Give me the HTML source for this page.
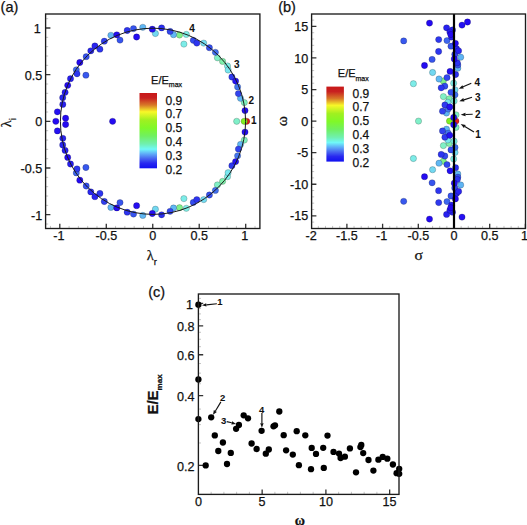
<!DOCTYPE html>
<html><head><meta charset="utf-8"><style>
html,body{margin:0;padding:0;background:#fff;}
svg{display:block;} text{stroke:#111;stroke-width:0.25px;} g[font-weight=bold] text{stroke-width:0.05px;}
</style></head><body>
<svg width="527" height="525" viewBox="0 0 527 525">
<rect width="527" height="525" fill="#fff"/>
<path d="M50.50 228.5v-2.6 M45.6 224.03h2.6 M69.09 228.5v-2.6 M45.6 205.37h2.6 M78.39 228.5v-2.6 M45.6 196.03h2.6 M87.69 228.5v-2.6 M45.6 186.69h2.6 M96.98 228.5v-2.6 M45.6 177.36h2.6 M115.57 228.5v-2.6 M45.6 158.69h2.6 M124.86 228.5v-2.6 M45.6 149.35h2.6 M134.16 228.5v-2.6 M45.6 140.02h2.6 M143.46 228.5v-2.6 M45.6 130.69h2.6 M162.04 228.5v-2.6 M45.6 112.02h2.6 M171.34 228.5v-2.6 M45.6 102.68h2.6 M180.63 228.5v-2.6 M45.6 93.34h2.6 M189.93 228.5v-2.6 M45.6 84.01h2.6 M208.52 228.5v-2.6 M45.6 65.34h2.6 M217.81 228.5v-2.6 M45.6 56.00h2.6 M227.11 228.5v-2.6 M45.6 46.67h2.6 M236.41 228.5v-2.6 M45.6 37.33h2.6 M255.00 228.5v-2.6 M45.6 18.66h2.6" stroke="#c4c4c4" stroke-width="1" fill="none"/><path d="M59.80 228.5v-4.8 M45.6 214.70h4.8 M106.28 228.5v-4.8 M45.6 168.02h4.8 M152.75 228.5v-4.8 M45.6 121.35h4.8 M199.22 228.5v-4.8 M45.6 74.67h4.8 M245.70 228.5v-4.8 M45.6 28.00h4.8" stroke="#333" stroke-width="1.3" fill="none"/>
<g stroke="#000" stroke-opacity="0.28" stroke-width="0.7">
<circle cx="246.7" cy="121.3" r="3.15" fill="#e01e19"/>
<circle cx="244.2" cy="121.3" r="3.15" fill="#80f020"/>
<circle cx="179.5" cy="35.0" r="3.15" fill="#80f08a"/>
<circle cx="179.5" cy="207.7" r="3.15" fill="#80f08a"/>
<circle cx="222.6" cy="61.4" r="3.15" fill="#80f0ab"/>
<circle cx="222.6" cy="181.3" r="3.15" fill="#80f0ab"/>
<circle cx="244.3" cy="102.6" r="3.15" fill="#80f0bd"/>
<circle cx="244.3" cy="140.1" r="3.15" fill="#80f0bd"/>
<circle cx="217.4" cy="57.8" r="3.15" fill="#80f0c5"/>
<circle cx="217.4" cy="184.9" r="3.15" fill="#80f0c5"/>
<circle cx="236.7" cy="121.3" r="3.15" fill="#80f0c9"/>
<circle cx="227.5" cy="66.0" r="3.15" fill="#7fefe5"/>
<circle cx="227.5" cy="176.7" r="3.15" fill="#7fefe5"/>
<circle cx="186.3" cy="34.4" r="3.15" fill="#7feee6"/>
<circle cx="186.3" cy="208.3" r="3.15" fill="#7feee6"/>
<circle cx="183.9" cy="44.1" r="3.15" fill="#7dece8"/>
<circle cx="183.9" cy="198.6" r="3.15" fill="#7dece8"/>
<circle cx="228.1" cy="70.0" r="3.15" fill="#79e6ee"/>
<circle cx="228.1" cy="172.7" r="3.15" fill="#79e6ee"/>
<circle cx="203.7" cy="43.1" r="3.15" fill="#73dcf1"/>
<circle cx="203.7" cy="199.6" r="3.15" fill="#73dcf1"/>
<circle cx="155.4" cy="33.5" r="3.15" fill="#72d8f1"/>
<circle cx="155.4" cy="209.2" r="3.15" fill="#72d8f1"/>
<circle cx="173.5" cy="34.7" r="3.15" fill="#60b8f4"/>
<circle cx="173.5" cy="208.0" r="3.15" fill="#60b8f4"/>
<circle cx="142.8" cy="27.3" r="3.15" fill="#60b7f4"/>
<circle cx="142.8" cy="215.4" r="3.15" fill="#60b7f4"/>
<circle cx="240.5" cy="98.3" r="3.15" fill="#5fb6f4"/>
<circle cx="240.5" cy="144.4" r="3.15" fill="#5fb6f4"/>
<circle cx="110.9" cy="35.3" r="3.15" fill="#5eb4f4"/>
<circle cx="110.9" cy="207.4" r="3.15" fill="#5eb4f4"/>
<circle cx="237.6" cy="86.9" r="3.15" fill="#4476ef"/>
<circle cx="237.6" cy="155.8" r="3.15" fill="#4476ef"/>
<circle cx="215.4" cy="52.3" r="3.15" fill="#416fef"/>
<circle cx="215.4" cy="190.4" r="3.15" fill="#416fef"/>
<circle cx="76.3" cy="69.8" r="3.15" fill="#3e66ef"/>
<circle cx="76.3" cy="172.9" r="3.15" fill="#3e66ef"/>
<circle cx="85.9" cy="75.2" r="3.15" fill="#3858ee"/>
<circle cx="85.9" cy="167.5" r="3.15" fill="#3858ee"/>
<circle cx="120.0" cy="40.1" r="3.15" fill="#3754ee"/>
<circle cx="120.0" cy="202.6" r="3.15" fill="#3754ee"/>
<circle cx="133.5" cy="28.6" r="3.15" fill="#3754ee"/>
<circle cx="133.5" cy="214.1" r="3.15" fill="#3754ee"/>
<circle cx="86.2" cy="56.7" r="3.15" fill="#3651ee"/>
<circle cx="86.2" cy="186.0" r="3.15" fill="#3651ee"/>
<circle cx="209.4" cy="47.7" r="3.15" fill="#354eee"/>
<circle cx="209.4" cy="195.0" r="3.15" fill="#354eee"/>
<circle cx="193.3" cy="40.3" r="3.15" fill="#344bef"/>
<circle cx="193.3" cy="202.4" r="3.15" fill="#344bef"/>
<circle cx="170.1" cy="31.4" r="3.15" fill="#3347ef"/>
<circle cx="170.1" cy="211.3" r="3.15" fill="#3347ef"/>
<circle cx="238.4" cy="93.6" r="3.15" fill="#3243ef"/>
<circle cx="238.4" cy="149.1" r="3.15" fill="#3243ef"/>
<circle cx="104.3" cy="41.2" r="3.15" fill="#303eef"/>
<circle cx="104.3" cy="201.5" r="3.15" fill="#303eef"/>
<circle cx="231.9" cy="77.0" r="3.15" fill="#2f39ef"/>
<circle cx="231.9" cy="165.7" r="3.15" fill="#2f39ef"/>
<circle cx="77.0" cy="73.8" r="3.15" fill="#2e38ef"/>
<circle cx="77.0" cy="168.9" r="3.15" fill="#2e38ef"/>
<circle cx="99.9" cy="49.2" r="3.15" fill="#2d35f0"/>
<circle cx="99.9" cy="193.5" r="3.15" fill="#2d35f0"/>
<circle cx="196.8" cy="43.1" r="3.15" fill="#2d35f0"/>
<circle cx="196.8" cy="199.6" r="3.15" fill="#2d35f0"/>
<circle cx="127.2" cy="30.5" r="3.15" fill="#2d34f0"/>
<circle cx="127.2" cy="212.2" r="3.15" fill="#2d34f0"/>
<circle cx="161.6" cy="27.9" r="3.15" fill="#2c30f0"/>
<circle cx="161.6" cy="214.8" r="3.15" fill="#2c30f0"/>
<circle cx="90.8" cy="50.8" r="3.15" fill="#2927f0"/>
<circle cx="90.8" cy="191.9" r="3.15" fill="#2927f0"/>
<circle cx="62.7" cy="97.7" r="3.15" fill="#2927f0"/>
<circle cx="62.7" cy="145.0" r="3.15" fill="#2927f0"/>
<circle cx="94.9" cy="46.0" r="3.15" fill="#2924f0"/>
<circle cx="94.9" cy="196.7" r="3.15" fill="#2924f0"/>
<circle cx="62.8" cy="104.4" r="3.15" fill="#2821f1"/>
<circle cx="62.8" cy="138.3" r="3.15" fill="#2821f1"/>
<circle cx="65.1" cy="92.3" r="3.15" fill="#281ef1"/>
<circle cx="65.1" cy="150.4" r="3.15" fill="#281ef1"/>
<circle cx="70.5" cy="78.7" r="3.15" fill="#271ef1"/>
<circle cx="70.5" cy="164.0" r="3.15" fill="#271ef1"/>
<circle cx="235.6" cy="81.1" r="3.15" fill="#2512f2"/>
<circle cx="235.6" cy="161.6" r="3.15" fill="#2512f2"/>
<circle cx="57.4" cy="111.8" r="3.15" fill="#2511f2"/>
<circle cx="57.4" cy="130.9" r="3.15" fill="#2511f2"/>
<circle cx="152.3" cy="29.2" r="3.15" fill="#240ff2"/>
<circle cx="152.3" cy="213.5" r="3.15" fill="#240ff2"/>
<circle cx="245.0" cy="110.6" r="3.15" fill="#240ef2"/>
<circle cx="245.0" cy="132.1" r="3.15" fill="#240ef2"/>
<circle cx="116.8" cy="34.8" r="3.15" fill="#240df2"/>
<circle cx="116.8" cy="207.9" r="3.15" fill="#240df2"/>
<circle cx="112.6" cy="121.3" r="3.15" fill="#240cf2"/>
<circle cx="136.6" cy="37.0" r="3.15" fill="#240cf2"/>
<circle cx="136.6" cy="205.7" r="3.15" fill="#240cf2"/>
<circle cx="67.7" cy="85.3" r="3.15" fill="#240bf2"/>
<circle cx="67.7" cy="157.4" r="3.15" fill="#240bf2"/>
<circle cx="79.8" cy="62.5" r="3.15" fill="#240af2"/>
<circle cx="79.8" cy="180.2" r="3.15" fill="#240af2"/>
<circle cx="65.6" cy="118.2" r="3.15" fill="#240af2"/>
<circle cx="65.6" cy="124.5" r="3.15" fill="#240af2"/>
<circle cx="55.8" cy="121.3" r="3.15" fill="#2409f2"/>
</g>
<ellipse cx="153.0" cy="121.3" rx="92.6" ry="93.1" fill="none" stroke="#1a1a1a" stroke-width="1.0"/>
<rect x="45.6" y="14.0" width="214.30" height="214.50" fill="none" stroke="#1c1c1c" stroke-width="1.35"/>
<g font-family="Liberation Sans, sans-serif" font-size="12.6" fill="#111"><text x="58.8" y="240.3" text-anchor="middle">-1</text><text x="42.3" y="219.5" text-anchor="end">-1</text><text x="106.3" y="240.3" text-anchor="middle">-0.5</text><text x="42.3" y="172.8" text-anchor="end">-0.5</text><text x="152.8" y="240.3" text-anchor="middle">0</text><text x="42.3" y="126.1" text-anchor="end">0</text><text x="199.2" y="240.3" text-anchor="middle">0.5</text><text x="42.3" y="79.5" text-anchor="end">0.5</text><text x="244.7" y="240.3" text-anchor="middle">1</text><text x="40.699999999999996" y="32.8" text-anchor="end">1</text></g>
<text x="146.8" y="260.4" font-family="Liberation Serif, serif" font-size="14.5" fill="#111">λ<tspan font-size="9.5" dy="5" font-family="Liberation Sans, sans-serif">r</tspan></text>
<text transform="translate(11.3,127.3) rotate(-90)" font-family="Liberation Serif, serif" font-size="14.5" fill="#111">λ<tspan font-size="9.5" dy="5" font-family="Liberation Sans, sans-serif">i</tspan></text>
<text x="0.6" y="12.3" font-family="Liberation Sans, sans-serif" font-size="14.5" fill="#111">(a)</text>
<defs><linearGradient id="cb" x1="0" y1="0" x2="0" y2="1">
<stop offset="0" stop-color="#c81818"/><stop offset="0.066" stop-color="#c82020"/>
<stop offset="0.16" stop-color="#d87828"/><stop offset="0.25" stop-color="#f8f828"/>
<stop offset="0.36" stop-color="#a0f020"/><stop offset="0.465" stop-color="#80f828"/>
<stop offset="0.57" stop-color="#70f060"/><stop offset="0.677" stop-color="#70f0b0"/>
<stop offset="0.746" stop-color="#70f8f8"/><stop offset="0.805" stop-color="#60b0f8"/>
<stop offset="0.869" stop-color="#4868f0"/><stop offset="0.932" stop-color="#2828f0"/>
<stop offset="1" stop-color="#1010f0"/></linearGradient></defs>
<rect x="139.5" y="93" width="17.5" height="75.3" fill="url(#cb)"/>
<g font-family="Liberation Sans, sans-serif" font-size="12" fill="#111"><text x="165.5" y="104.7">0.9</text><text x="165.5" y="118.0">0.7</text><text x="165.5" y="132.0">0.5</text><text x="165.5" y="146.1">0.4</text><text x="165.5" y="160.2">0.3</text><text x="165.5" y="174.3">0.2</text></g>
<text x="151.1" y="83.7" font-family="Liberation Sans, sans-serif" font-size="11" fill="#111">E/E<tspan font-size="7" dy="3.6">max</tspan></text>
<g font-family="Liberation Sans, sans-serif" font-size="10" font-weight="bold" fill="#111"><text x="251" y="124.3">1</text><text x="248.6" y="103.6">2</text><text x="234.0" y="67.7">3</text><text x="189.3" y="32.0">4</text></g>
<path d="M318.34 228.5v-2.6 M325.48 228.5v-2.6 M332.62 228.5v-2.6 M339.76 228.5v-2.6 M354.04 228.5v-2.6 M361.18 228.5v-2.6 M368.32 228.5v-2.6 M375.46 228.5v-2.6 M389.74 228.5v-2.6 M396.88 228.5v-2.6 M404.02 228.5v-2.6 M411.16 228.5v-2.6 M425.44 228.5v-2.6 M432.58 228.5v-2.6 M439.72 228.5v-2.6 M446.86 228.5v-2.6 M461.14 228.5v-2.6 M468.28 228.5v-2.6 M475.42 228.5v-2.6 M482.56 228.5v-2.6 M496.84 228.5v-2.6 M503.98 228.5v-2.6 M511.12 228.5v-2.6 M518.26 228.5v-2.6 M311.6 222.11h2.6 M311.6 209.48h2.6 M311.6 203.17h2.6 M311.6 196.86h2.6 M311.6 190.54h2.6 M311.6 177.92h2.6 M311.6 171.60h2.6 M311.6 165.29h2.6 M311.6 158.98h2.6 M311.6 146.35h2.6 M311.6 140.04h2.6 M311.6 133.73h2.6 M311.6 127.41h2.6 M311.6 114.79h2.6 M311.6 108.47h2.6 M311.6 102.16h2.6 M311.6 95.85h2.6 M311.6 83.22h2.6 M311.6 76.91h2.6 M311.6 70.60h2.6 M311.6 64.28h2.6 M311.6 51.66h2.6 M311.6 45.34h2.6 M311.6 39.03h2.6 M311.6 32.72h2.6 M311.6 20.09h2.6" stroke="#c4c4c4" stroke-width="1" fill="none"/><path d="M346.90 228.5v-4.8 M382.60 228.5v-4.8 M418.30 228.5v-4.8 M454.00 228.5v-4.8 M489.70 228.5v-4.8 M525.40 228.5v-4.8 M311.6 215.79h4.8 M311.6 184.23h4.8 M311.6 152.66h4.8 M311.6 121.10h4.8 M311.6 89.53h4.8 M311.6 57.97h4.8 M311.6 26.41h4.8" stroke="#333" stroke-width="1.3" fill="none"/>
<g stroke="#000" stroke-opacity="0.28" stroke-width="0.7">
<circle cx="455.9" cy="121.1" r="3.15" fill="#e01e19"/>
<circle cx="449.5" cy="121.1" r="3.15" fill="#80f020"/>
<circle cx="443.3" cy="81.0" r="3.15" fill="#80f08a"/>
<circle cx="443.3" cy="161.2" r="3.15" fill="#80f08a"/>
<circle cx="449.2" cy="98.8" r="3.15" fill="#80f0ab"/>
<circle cx="449.2" cy="143.4" r="3.15" fill="#80f0ab"/>
<circle cx="456.0" cy="114.8" r="3.15" fill="#80f0bd"/>
<circle cx="456.0" cy="127.4" r="3.15" fill="#80f0bd"/>
<circle cx="443.4" cy="96.6" r="3.15" fill="#80f0c5"/>
<circle cx="443.4" cy="145.6" r="3.15" fill="#80f0c5"/>
<circle cx="418.5" cy="121.1" r="3.15" fill="#80f0c9"/>
<circle cx="454.1" cy="101.0" r="3.15" fill="#7fefe5"/>
<circle cx="454.1" cy="141.2" r="3.15" fill="#7fefe5"/>
<circle cx="453.7" cy="83.2" r="3.15" fill="#7feee6"/>
<circle cx="453.7" cy="159.0" r="3.15" fill="#7feee6"/>
<circle cx="413.4" cy="83.7" r="3.15" fill="#7dece8"/>
<circle cx="413.4" cy="158.5" r="3.15" fill="#7dece8"/>
<circle cx="447.8" cy="102.3" r="3.15" fill="#79e6ee"/>
<circle cx="447.8" cy="139.9" r="3.15" fill="#79e6ee"/>
<circle cx="455.0" cy="89.8" r="3.15" fill="#73dcf1"/>
<circle cx="455.0" cy="152.4" r="3.15" fill="#73dcf1"/>
<circle cx="432.6" cy="72.5" r="3.15" fill="#72d8f1"/>
<circle cx="432.6" cy="169.7" r="3.15" fill="#72d8f1"/>
<circle cx="439.0" cy="79.0" r="3.15" fill="#60b8f4"/>
<circle cx="439.0" cy="163.2" r="3.15" fill="#60b8f4"/>
<circle cx="457.8" cy="68.2" r="3.15" fill="#60b7f4"/>
<circle cx="457.8" cy="174.0" r="3.15" fill="#60b7f4"/>
<circle cx="446.5" cy="113.0" r="3.15" fill="#5fb6f4"/>
<circle cx="446.5" cy="129.2" r="3.15" fill="#5fb6f4"/>
<circle cx="460.7" cy="57.2" r="3.15" fill="#5eb4f4"/>
<circle cx="460.7" cy="185.0" r="3.15" fill="#5eb4f4"/>
<circle cx="448.2" cy="109.0" r="3.15" fill="#4476ef"/>
<circle cx="448.2" cy="133.2" r="3.15" fill="#4476ef"/>
<circle cx="455.0" cy="94.8" r="3.15" fill="#416fef"/>
<circle cx="455.0" cy="147.4" r="3.15" fill="#416fef"/>
<circle cx="447.0" cy="40.6" r="3.15" fill="#3e66ef"/>
<circle cx="447.0" cy="201.6" r="3.15" fill="#3e66ef"/>
<circle cx="403.7" cy="40.9" r="3.15" fill="#3858ee"/>
<circle cx="403.7" cy="201.3" r="3.15" fill="#3858ee"/>
<circle cx="432.1" cy="59.4" r="3.15" fill="#3754ee"/>
<circle cx="432.1" cy="182.8" r="3.15" fill="#3754ee"/>
<circle cx="457.8" cy="65.0" r="3.15" fill="#3754ee"/>
<circle cx="457.8" cy="177.2" r="3.15" fill="#3754ee"/>
<circle cx="451.0" cy="46.2" r="3.15" fill="#3651ee"/>
<circle cx="451.0" cy="196.0" r="3.15" fill="#3651ee"/>
<circle cx="451.0" cy="92.3" r="3.15" fill="#354eee"/>
<circle cx="451.0" cy="149.9" r="3.15" fill="#354eee"/>
<circle cx="444.8" cy="86.2" r="3.15" fill="#344bef"/>
<circle cx="444.8" cy="156.0" r="3.15" fill="#344bef"/>
<circle cx="447.0" cy="77.6" r="3.15" fill="#3347ef"/>
<circle cx="447.0" cy="164.6" r="3.15" fill="#3347ef"/>
<circle cx="442.5" cy="111.2" r="3.15" fill="#3243ef"/>
<circle cx="442.5" cy="131.0" r="3.15" fill="#3243ef"/>
<circle cx="454.8" cy="54.3" r="3.15" fill="#303eef"/>
<circle cx="454.8" cy="187.9" r="3.15" fill="#303eef"/>
<circle cx="444.9" cy="105.0" r="3.15" fill="#2f39ef"/>
<circle cx="444.9" cy="137.2" r="3.15" fill="#2f39ef"/>
<circle cx="438.7" cy="39.6" r="3.15" fill="#2e38ef"/>
<circle cx="438.7" cy="202.6" r="3.15" fill="#2e38ef"/>
<circle cx="438.6" cy="51.5" r="3.15" fill="#2d35f0"/>
<circle cx="438.6" cy="190.7" r="3.15" fill="#2d35f0"/>
<circle cx="441.2" cy="87.8" r="3.15" fill="#2d35f0"/>
<circle cx="441.2" cy="154.4" r="3.15" fill="#2d35f0"/>
<circle cx="457.3" cy="62.8" r="3.15" fill="#2d34f0"/>
<circle cx="457.3" cy="179.4" r="3.15" fill="#2d34f0"/>
<circle cx="455.6" cy="74.5" r="3.15" fill="#2c30f0"/>
<circle cx="455.6" cy="167.7" r="3.15" fill="#2c30f0"/>
<circle cx="456.5" cy="48.7" r="3.15" fill="#2927f0"/>
<circle cx="456.5" cy="193.5" r="3.15" fill="#2927f0"/>
<circle cx="452.5" cy="30.0" r="3.15" fill="#2927f0"/>
<circle cx="452.5" cy="212.2" r="3.15" fill="#2927f0"/>
<circle cx="458.6" cy="50.8" r="3.15" fill="#2924f0"/>
<circle cx="458.6" cy="191.4" r="3.15" fill="#2924f0"/>
<circle cx="446.6" cy="27.8" r="3.15" fill="#2821f1"/>
<circle cx="446.6" cy="214.4" r="3.15" fill="#2821f1"/>
<circle cx="449.9" cy="32.0" r="3.15" fill="#281ef1"/>
<circle cx="449.9" cy="210.2" r="3.15" fill="#281ef1"/>
<circle cx="451.6" cy="37.0" r="3.15" fill="#271ef1"/>
<circle cx="451.6" cy="205.2" r="3.15" fill="#271ef1"/>
<circle cx="449.8" cy="106.9" r="3.15" fill="#2512f2"/>
<circle cx="449.8" cy="135.3" r="3.15" fill="#2512f2"/>
<circle cx="462.0" cy="25.1" r="3.15" fill="#2511f2"/>
<circle cx="462.0" cy="217.1" r="3.15" fill="#2511f2"/>
<circle cx="450.1" cy="71.4" r="3.15" fill="#240ff2"/>
<circle cx="450.1" cy="170.8" r="3.15" fill="#240ff2"/>
<circle cx="453.7" cy="117.5" r="3.15" fill="#240ef2"/>
<circle cx="453.7" cy="124.7" r="3.15" fill="#240ef2"/>
<circle cx="454.3" cy="59.0" r="3.15" fill="#240df2"/>
<circle cx="454.3" cy="183.2" r="3.15" fill="#240df2"/>
<circle cx="424.5" cy="65.5" r="3.15" fill="#240cf2"/>
<circle cx="424.5" cy="176.7" r="3.15" fill="#240cf2"/>
<circle cx="450.8" cy="34.5" r="3.15" fill="#240bf2"/>
<circle cx="450.8" cy="207.7" r="3.15" fill="#240bf2"/>
<circle cx="455.4" cy="43.3" r="3.15" fill="#240af2"/>
<circle cx="455.4" cy="198.9" r="3.15" fill="#240af2"/>
<circle cx="429.5" cy="23.1" r="3.15" fill="#240af2"/>
<circle cx="429.5" cy="219.1" r="3.15" fill="#240af2"/>
<circle cx="467.5" cy="22.0" r="3.15" fill="#2409f2"/>
</g>
<line x1="454.0" y1="14.0" x2="454.0" y2="228.5" stroke="#000" stroke-width="2.2"/>
<rect x="311.6" y="14.0" width="213.90" height="214.50" fill="none" stroke="#1c1c1c" stroke-width="1.35"/>
<g font-family="Liberation Sans, sans-serif" font-size="12.6" fill="#111"><text x="311.2" y="240.3" text-anchor="middle">-2</text><text x="346.9" y="240.3" text-anchor="middle">-1.5</text><text x="381.6" y="240.3" text-anchor="middle">-1</text><text x="418.3" y="240.3" text-anchor="middle">-0.5</text><text x="454.0" y="240.3" text-anchor="middle">0</text><text x="489.7" y="240.3" text-anchor="middle">0.5</text><text x="524.4" y="240.3" text-anchor="middle">1</text><text x="308.2" y="220.4" text-anchor="end">-15</text><text x="308.2" y="188.8" text-anchor="end">-10</text><text x="308.2" y="157.3" text-anchor="end">-5</text><text x="308.2" y="125.7" text-anchor="end">0</text><text x="308.2" y="94.1" text-anchor="end">5</text><text x="308.2" y="62.6" text-anchor="end">10</text><text x="308.2" y="31.0" text-anchor="end">15</text></g>
<text x="278.2" y="12.3" font-family="Liberation Sans, sans-serif" font-size="14.5" fill="#111">(b)</text>
<text x="418.7" y="259.5" text-anchor="middle" font-family="Liberation Serif, serif" font-size="15.5" fill="#111">σ</text>
<text transform="translate(287.2,121.2) rotate(-90)" text-anchor="middle" font-family="Liberation Serif, serif" font-size="15.5" fill="#111">ω</text>
<rect x="326.4" y="86.6" width="17.5" height="75.0" fill="url(#cb)"/>
<g font-family="Liberation Sans, sans-serif" font-size="12" fill="#111"><text x="352.6" y="97.7">0.9</text><text x="352.6" y="111.0">0.7</text><text x="352.6" y="125.0">0.5</text><text x="352.6" y="139.1">0.4</text><text x="352.6" y="153.2">0.3</text><text x="352.6" y="167.3">0.2</text></g>
<text x="337.8" y="77.3" font-family="Liberation Sans, sans-serif" font-size="11" fill="#111">E/E<tspan font-size="7" dy="3.6">max</tspan></text>
<g font-family="Liberation Sans, sans-serif" font-size="10" font-weight="bold" fill="#111"><text x="474.4" y="86.0">4</text><text x="474.9" y="100.7">3</text><text x="474.9" y="118.3">2</text><text x="475.3" y="137.9">1</text></g>
<line x1="471.3" y1="83.3" x2="463.1" y2="86.8" stroke="#111" stroke-width="1.15"/><path d="M458.7 88.7L462.4 85.2L463.8 88.5Z" fill="#111"/>
<line x1="472.0" y1="97.3" x2="463.9" y2="99.9" stroke="#111" stroke-width="1.15"/><path d="M459.3 101.3L463.3 98.1L464.4 101.6Z" fill="#111"/>
<line x1="472.7" y1="114.3" x2="465.5" y2="114.5" stroke="#111" stroke-width="1.15"/><path d="M460.7 114.7L465.4 112.7L465.6 116.3Z" fill="#111"/>
<line x1="474.0" y1="132.0" x2="464.8" y2="126.5" stroke="#111" stroke-width="1.15"/><path d="M460.7 124.0L465.7 124.9L463.9 128.0Z" fill="#111"/>
<path d="M211.15 494.4v-2.6 M223.90 494.4v-2.6 M236.65 494.4v-2.6 M249.40 494.4v-2.6 M274.90 494.4v-2.6 M287.65 494.4v-2.6 M300.40 494.4v-2.6 M313.15 494.4v-2.6 M338.65 494.4v-2.6 M351.40 494.4v-2.6 M364.15 494.4v-2.6 M376.90 494.4v-2.6 M198.4 442.98h2.6 M198.4 424.61h2.6 M198.4 409.08h2.6 M198.4 383.75h2.6 M198.4 373.14h2.6 M198.4 363.54h2.6 M198.4 346.70h2.6 M198.4 339.24h2.6 M198.4 332.29h2.6 M198.4 319.67h2.6 M198.4 313.92h2.6 M198.4 308.47h2.6 M198.4 298.38h2.6" stroke="#c4c4c4" stroke-width="1" fill="none"/><path d="M262.15 494.4v-4.8 M325.90 494.4v-4.8 M389.65 494.4v-4.8 M198.4 465.46h4.8 M198.4 395.62h4.8 M198.4 354.77h4.8 M198.4 325.78h4.8 M198.4 303.30h4.8" stroke="#333" stroke-width="1.3" fill="none"/>
<circle cx="198.4" cy="304.7" r="3.15" fill="#000"/>
<circle cx="198.4" cy="379.5" r="3.15" fill="#000"/>
<circle cx="198.4" cy="419.1" r="3.15" fill="#000"/>
<circle cx="205.7" cy="465.4" r="3.15" fill="#000"/>
<circle cx="211.2" cy="417.3" r="3.15" fill="#000"/>
<circle cx="214.8" cy="435.4" r="3.15" fill="#000"/>
<circle cx="218.3" cy="451.0" r="3.15" fill="#000"/>
<circle cx="222.9" cy="442.5" r="3.15" fill="#000"/>
<circle cx="227.0" cy="464.0" r="3.15" fill="#000"/>
<circle cx="230.8" cy="452.9" r="3.15" fill="#000"/>
<circle cx="236.1" cy="428.8" r="3.15" fill="#000"/>
<circle cx="238.9" cy="425.0" r="3.15" fill="#000"/>
<circle cx="243.7" cy="415.3" r="3.15" fill="#000"/>
<circle cx="248.0" cy="418.3" r="3.15" fill="#000"/>
<circle cx="251.6" cy="443.5" r="3.15" fill="#000"/>
<circle cx="256.6" cy="449.0" r="3.15" fill="#000"/>
<circle cx="261.6" cy="430.8" r="3.15" fill="#000"/>
<circle cx="265.8" cy="453.7" r="3.15" fill="#000"/>
<circle cx="268.8" cy="449.5" r="3.15" fill="#000"/>
<circle cx="273.5" cy="426.3" r="3.15" fill="#000"/>
<circle cx="275.0" cy="425.3" r="3.15" fill="#000"/>
<circle cx="279.3" cy="411.5" r="3.15" fill="#000"/>
<circle cx="283.7" cy="435.2" r="3.15" fill="#000"/>
<circle cx="286.1" cy="450.3" r="3.15" fill="#000"/>
<circle cx="292.8" cy="454.6" r="3.15" fill="#000"/>
<circle cx="296.7" cy="431.2" r="3.15" fill="#000"/>
<circle cx="298.9" cy="465.2" r="3.15" fill="#000"/>
<circle cx="305.3" cy="435.3" r="3.15" fill="#000"/>
<circle cx="311.0" cy="469.2" r="3.15" fill="#000"/>
<circle cx="311.7" cy="447.9" r="3.15" fill="#000"/>
<circle cx="316.0" cy="453.9" r="3.15" fill="#000"/>
<circle cx="323.2" cy="447.8" r="3.15" fill="#000"/>
<circle cx="323.8" cy="467.9" r="3.15" fill="#000"/>
<circle cx="327.5" cy="435.6" r="3.15" fill="#000"/>
<circle cx="333.5" cy="451.9" r="3.15" fill="#000"/>
<circle cx="339.0" cy="453.6" r="3.15" fill="#000"/>
<circle cx="340.6" cy="458.0" r="3.15" fill="#000"/>
<circle cx="344.9" cy="456.7" r="3.15" fill="#000"/>
<circle cx="349.9" cy="448.4" r="3.15" fill="#000"/>
<circle cx="356.0" cy="472.3" r="3.15" fill="#000"/>
<circle cx="360.4" cy="447.1" r="3.15" fill="#000"/>
<circle cx="361.3" cy="444.9" r="3.15" fill="#000"/>
<circle cx="363.2" cy="453.1" r="3.15" fill="#000"/>
<circle cx="368.5" cy="460.0" r="3.15" fill="#000"/>
<circle cx="373.4" cy="470.6" r="3.15" fill="#000"/>
<circle cx="378.4" cy="459.7" r="3.15" fill="#000"/>
<circle cx="382.7" cy="456.9" r="3.15" fill="#000"/>
<circle cx="387.3" cy="458.7" r="3.15" fill="#000"/>
<circle cx="392.9" cy="464.5" r="3.15" fill="#000"/>
<circle cx="396.6" cy="473.2" r="3.15" fill="#000"/>
<circle cx="399.2" cy="468.8" r="3.15" fill="#000"/>
<circle cx="399.2" cy="473.8" r="3.15" fill="#000"/>
<rect x="198.4" y="294.0" width="200.60" height="200.40" fill="none" stroke="#1c1c1c" stroke-width="1.35"/>
<g font-family="Liberation Sans, sans-serif" font-size="12.6" fill="#111"><text x="198.4" y="506.2" text-anchor="middle">0</text><text x="262.1" y="506.2" text-anchor="middle">5</text><text x="325.9" y="506.2" text-anchor="middle">10</text><text x="389.6" y="506.2" text-anchor="middle">15</text><text x="194.5" y="470.7" text-anchor="end">0.2</text><text x="194.5" y="400.8" text-anchor="end">0.4</text><text x="194.5" y="360.0" text-anchor="end">0.6</text><text x="194.5" y="331.0" text-anchor="end">0.8</text><text x="192.9" y="308.5" text-anchor="end">1</text></g>
<text x="148.2" y="297.4" font-family="Liberation Sans, sans-serif" font-size="14.5" fill="#111">(c)</text>
<text transform="translate(157.9,414.6) rotate(-90)" font-family="Liberation Sans, sans-serif" font-size="15" font-weight="bold" fill="#111">E/E<tspan font-size="8" dy="3.6">max</tspan></text>
<text x="299.8" y="525" text-anchor="middle" font-family="Liberation Serif, serif" font-size="14" font-weight="bold" fill="#111">ω</text>
<g font-family="Liberation Sans, sans-serif" font-size="9.5" font-weight="bold" fill="#111"><text x="217.2" y="304.8">1</text><text x="220.1" y="400.6">2</text><text x="220.9" y="423.9">3</text><text x="259.1" y="412.5">4</text></g>
<line x1="216.9" y1="303.8" x2="206.4" y2="304.9" stroke="#111" stroke-width="1.15"/><path d="M201.9 305.3L206.2 303.2L206.5 306.5Z" fill="#111"/>
<line x1="220.9" y1="401.9" x2="215.4" y2="411.0" stroke="#111" stroke-width="1.15"/><path d="M213.0 414.8L213.9 410.1L216.8 411.9Z" fill="#111"/>
<line x1="226.7" y1="421.6" x2="231.7" y2="422.8" stroke="#111" stroke-width="1.15"/><path d="M236.1 423.9L231.3 424.5L232.1 421.2Z" fill="#111"/>
<line x1="261.9" y1="413.0" x2="261.9" y2="423.3" stroke="#111" stroke-width="1.15"/><path d="M261.9 427.8L260.2 423.3L263.6 423.3Z" fill="#111"/>
</svg>
</body></html>
